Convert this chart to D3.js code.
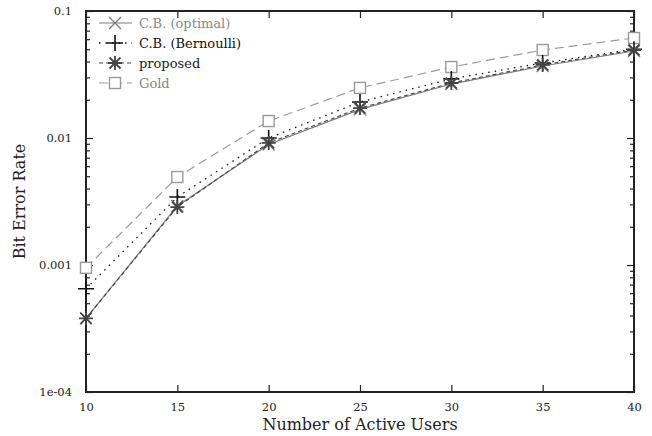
<!DOCTYPE html>
<html><head><meta charset="utf-8">
<script src="https://cdn.jsdelivr.net/npm/d3@7"></script>
<style>body{margin:0;background:#fff}svg{display:block}text{font-family:"DejaVu Serif",serif}</style>
</head><body>
<svg id="c" width="652" height="436"></svg>
<script>
const users = [10, 15, 20, 25, 30, 35, 40];
const cbOptimal   = [0.00038, 0.00292, 0.0089, 0.0168, 0.0266, 0.0369, 0.0484];
const cbBernoulli = [0.00065, 0.00343, 0.0100, 0.0192, 0.0292, 0.0390, 0.0500];
const proposed    = [0.00038, 0.00286, 0.00914, 0.0172, 0.0271, 0.0376, 0.0493];
const gold        = [0.00095, 0.00493, 0.0136, 0.0248, 0.0362, 0.0493, 0.0613];
const xTicks = [10, 15, 20, 25, 30, 35, 40];
const yTicks = [1e-4, 1e-3, 1e-2, 1e-1];
const yTickLabels = ["1e-04", "0.001", "0.01", "0.1"];
const seriesNames = ["C.B. (optimal)", "C.B. (Bernoulli)", "proposed", "Gold"];

const svg = d3.select("#c");
const L = 86, R = 634, T = 11, B = 392;
const x = d3.scaleLinear().domain([10, 40]).range([L, R]);
const y = d3.scaleLog().domain([1e-4, 1e-1]).range([B, T]);

const series = [
  {name: seriesNames[0], vals: cbOptimal, color: "#7a7a7a", dash: null, marker: "x", text: "#888", w: 1.2},
  {name: seriesNames[1], vals: cbBernoulli, color: "#111", dash: "1.5,5", marker: "plus", text: "#111", w: 1.3},
  {name: seriesNames[2], vals: proposed, color: "#444", dash: "4,3", marker: "star", text: "#222", w: 1.1},
  {name: seriesNames[3], vals: gold, color: "#999", dash: "9,5", marker: "square", text: "#888", w: 1.2}
];

const minor = [];
for (let e = -4; e < -1; e++) for (let m = 2; m <= 9; m++) minor.push(m * Math.pow(10, e));

const g = svg.append("g");
const axL = d3.axisLeft(y).tickValues(yTicks).tickSize(-7).tickFormat((d, i) => yTickLabels[i]).tickPadding(14);
const axLminor = d3.axisLeft(y).tickValues(minor).tickSize(-4).tickFormat("");
const axR = d3.axisRight(y).tickValues(yTicks).tickSize(-7).tickFormat("");
const axRminor = d3.axisRight(y).tickValues(minor).tickSize(-4).tickFormat("");
const axB = d3.axisBottom(x).tickValues(xTicks).tickSize(-7).tickPadding(11).tickFormat(d3.format("d"));
const axT = d3.axisTop(x).tickValues(xTicks).tickSize(-7).tickFormat("");

function style(sel) {
  sel.select(".domain").remove();
  sel.selectAll(".tick line").attr("stroke", "#222").attr("stroke-width", 1.2);
  sel.selectAll(".tick text").attr("fill", "#222").style("font-size", "11.5px").style("font-family", '"DejaVu Serif",serif');
}
g.append("g").attr("transform", `translate(${L},0)`).call(axL).call(style);
g.append("g").attr("transform", `translate(${L},0)`).call(axLminor).call(style);
g.append("g").attr("transform", `translate(${R},0)`).call(axR).call(style);
g.append("g").attr("transform", `translate(${R},0)`).call(axRminor).call(style);
g.append("g").attr("transform", `translate(0,${B})`).call(axB).call(style);
g.append("g").attr("transform", `translate(0,${T})`).call(axT).call(style);

svg.append("rect").attr("x", L).attr("y", T).attr("width", R - L).attr("height", B - T)
  .attr("fill", "none").attr("stroke", "#222").attr("stroke-width", 2);

function drawMarker(sel, type, cx, cy, color) {
  const s = sel.append("g").attr("transform", `translate(${cx},${cy})`).attr("stroke", color).attr("fill", "none");
  if (type === "x") {
    s.append("path").attr("d", "M-6,-6L6,6M-6,6L6,-6").attr("stroke-width", 1.3);
  } else if (type === "plus") {
    s.append("path").attr("d", "M-8,0L8,0M0,-8L0,8").attr("stroke-width", 1.6);
  } else if (type === "star") {
    s.append("path").attr("d", "M-7,0L7,0M0,-7L0,7M-5.5,-5.5L5.5,5.5M-5.5,5.5L5.5,-5.5").attr("stroke-width", 1.8);
  } else if (type === "square") {
    s.append("rect").attr("x", -5.5).attr("y", -5.5).attr("width", 11).attr("height", 11).attr("fill", "#fff").attr("stroke-width", 1.4);
  }
}

const line = d3.line().x((d, i) => x(users[i])).y(d => y(d));
const plot = svg.append("g");
[3, 1, 0, 2].forEach(k => {
  const s = series[k];
  plot.append("path").attr("d", line(s.vals)).attr("fill", "none").attr("stroke", s.color)
    .attr("stroke-width", s.w).attr("stroke-dasharray", s.dash);
});
[3, 1, 0, 2].forEach(k => {
  const s = series[k];
  s.vals.forEach((v, i) => drawMarker(plot, s.marker, x(users[i]), y(v), s.color));
});

const leg = svg.append("g");
series.forEach((s, i) => {
  const ly = 23 + i * 20;
  leg.append("line").attr("x1", 99).attr("x2", 132).attr("y1", ly).attr("y2", ly)
    .attr("stroke", s.color).attr("stroke-width", s.w).attr("stroke-dasharray", s.dash);
  drawMarker(leg, s.marker, 115, ly, s.color);
  leg.append("text").attr("x", 139).attr("y", ly + 4.5).text(s.name).attr("fill", s.text).style("font-size", "13px");
});

svg.append("text").attr("x", (L + R) / 2).attr("y", 430).attr("text-anchor", "middle")
  .style("font-size", "16px").attr("fill", "#222").text("Number of Active Users");
svg.append("text").attr("transform", `translate(25,${(T + B) / 2}) rotate(-90)`).attr("text-anchor", "middle")
  .style("font-size", "16px").attr("fill", "#222").text("Bit Error Rate");
</script>
</body></html>
